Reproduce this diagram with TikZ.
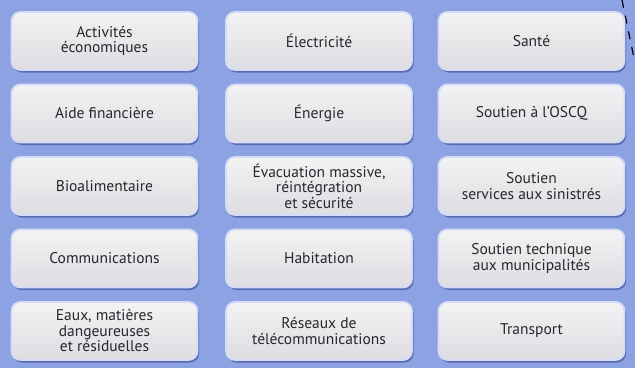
\documentclass[tikz,border=0pt]{standalone}
\usepackage{fontspec}
\setmainfont{PT Sans}
\usetikzlibrary{shadows}
\definecolor{bgblue}{RGB}{141,162,226}
\definecolor{boxedge}{RGB}{212,220,247}
\definecolor{boxtop}{RGB}{243,243,244}
\definecolor{boxbot}{RGB}{221,221,226}
\definecolor{shadowblue}{RGB}{84,100,172}
\definecolor{txt}{RGB}{40,40,44}
\tikzset{
  cell/.style={rectangle, rounded corners=9pt, minimum width=186pt, minimum height=58pt,
    top color=boxtop, bottom color=boxbot, draw=boxedge, line width=1.8pt,
    text=txt, align=center, font=\fontsize{15.5}{15.5}\selectfont, inner sep=2pt,
    drop shadow={shadow xshift=1.5pt, shadow yshift=-2.5pt, fill=shadowblue, opacity=0.9}},
}
\begin{document}
\begin{tikzpicture}[x=1pt,y=1pt]
\fill[bgblue] (0,0) rectangle (635,-368);
\useasboundingbox (0,0) rectangle (635,-368);
% column centres 104.5, 319, 531.5 ; row centres 41,113.5,186,258.5,331
\node[cell] (a1) at (104.5,-41) {Activités\\économiques};
\node[cell] (b1) at (319,-41) {Électricité};
\node[cell] (c1) at (531.5,-41) {Santé};
\node[cell] (a2) at (104.5,-113.5) {Aide financière};
\node[cell] (b2) at (319,-113.5) {Énergie};
\node[cell] (c2) at (531.5,-113.5) {Soutien à l'OSCQ};
\node[cell] (a3) at (104.5,-186) {Bioalimentaire};
\node[cell] (b3) at (319,-186) {Évacuation massive,\\réintégration\\et sécurité};
\node[cell] (c3) at (531.5,-186) {Soutien\\services aux sinistrés};
\node[cell] (a4) at (104.5,-258.5) {Communications};
\node[cell] (b4) at (319,-258.5) {Habitation};
\node[cell] (c4) at (531.5,-258.5) {Soutien technique\\aux municipalités};
\node[cell] (a5) at (104.5,-331) {Eaux, matières\\dangeureuses\\et résiduelles};
\node[cell] (b5) at (319,-331) {Réseaux de\\télécommunications};
\node[cell] (c5) at (531.5,-331) {Transport};
\coordinate (d1) at (622,0);
\coordinate (d2) at (634,-58);
\draw[black, line width=1.2pt, dash pattern=on 8pt off 8pt] (d1) -- (d2);
\end{tikzpicture}
\end{document}
